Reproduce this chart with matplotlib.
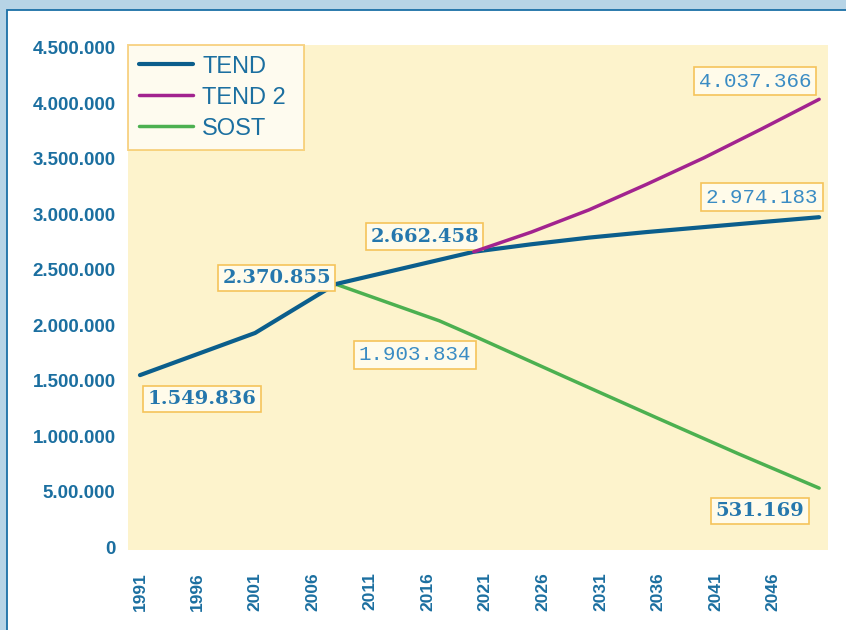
"""
Proyección de población: TEND, TEND 2 y SOST (1991-2050)
"""
import matplotlib
matplotlib.use('Agg')
import matplotlib.pyplot as plt
from matplotlib.patches import Rectangle

plt.rcParams['font.family'] = ['Liberation Sans', 'DejaVu Sans']
plt.rcParams['axes.unicode_minus'] = False

# datos
years_tend = [1991, 2001, 2008, 2020, 2025, 2030, 2035, 2040, 2045, 2050]
tend = [1549836, 1930000, 2370855, 2662458, 2730000, 2790000, 2840000, 2885000, 2930000, 2974183]

years_tend2 = [2020, 2025, 2030, 2035, 2040, 2045, 2050]
tend2 = [2662458, 2840000, 3040000, 3270000, 3510000, 3770000, 4037366]

years_sost = [2008, 2017, 2020, 2028, 2036, 2043, 2050]
sost = [2370855, 2040000, 1903834, 1530000, 1160000, 840000, 531169]

x_ticks = list(range(1991, 2050, 5))
y_ticks = [0, 500000, 1000000, 1500000, 2000000, 2500000, 3000000, 3500000, 4000000, 4500000]
y_tick_labels = ['0', '5.00.000', '1.000.000', '1.500.000', '2.000.000', '2.500.000',
                 '3.000.000', '3.500.000', '4.000.000', '4.500.000']

BLUE_TXT = '#1b6fa0'
ORANGE = '#f5c35a'


def add_label(ax, text, xy, offset, serif=True):
    """etiqueta con recuadro naranja"""
    if serif:
        font = dict(family='DejaVu Serif', weight='bold', size=14, color='#2577ad')
    else:
        font = dict(family='Liberation Mono', size=15, color='#3a8cc4')
    ax.annotate(text, xy=xy, xytext=offset, textcoords='offset pixels',
                ha='center', va='center', **font,
                bbox=dict(boxstyle='square,pad=0.22', fc='#fffbea', ec=ORANGE, lw=1.2))


fig = plt.figure(figsize=(8.46, 6.3), dpi=100)
fig.patch.set_facecolor('#b7d4e6')
# panel blanco con borde azul (solo arriba e izquierda visibles)
fig.add_artist(Rectangle((7 / 846, -0.05), 1.1, 1.05 - 10 / 630, transform=fig.transFigure,
                         fc='white', ec='#1a6fa6', lw=1.3, zorder=0))

ax = fig.add_axes([128 / 846, 80 / 630, 700 / 846, 505 / 630])
ax.set_facecolor('#fdf3cc')
for s in ax.spines.values():
    s.set_visible(False)

ax.plot(years_tend, tend, color='#0b5e8c', lw=3.0, label='TEND', solid_capstyle='round', zorder=3)
ax.plot(years_tend2, tend2, color='#a2238f', lw=2.5, label='TEND 2', solid_capstyle='round', zorder=4)
ax.plot(years_sost, sost, color='#4cb050', lw=2.5, label='SOST', solid_capstyle='round', zorder=2)

ax.set_xlim(1989.96, 2050.77)
ax.set_ylim(-27000, 4527000)
ax.set_xticks(x_ticks)
ax.set_xticklabels([str(y) for y in x_ticks], rotation=90, fontsize=12.5,
                   fontweight='bold', color=BLUE_TXT)
ax.set_yticks(y_ticks)
ax.set_yticklabels(y_tick_labels, fontsize=13.5, fontweight='bold', color=BLUE_TXT)
ax.tick_params(axis='x', length=0, pad=16)
ax.tick_params(axis='y', length=0, pad=9)

# etiquetas de valores
add_label(ax, '1.549.836', (years_tend[0], tend[0]), (62, -24))
add_label(ax, '2.370.855', (years_tend[2], tend[2]), (-59, 6))
add_label(ax, '2.662.458', (years_tend[3], tend[3]), (-49, 15))
add_label(ax, '2.974.183', (years_tend[-1], tend[-1]), (-57, 20), serif=False)
add_label(ax, '4.037.366', (years_tend2[-1], tend2[-1]), (-64, 18), serif=False)
add_label(ax, '1.903.834', (years_sost[2], sost[2]), (-59, -19), serif=False)
add_label(ax, '531.169', (years_sost[-1], sost[-1]), (-59, -23))

leg = ax.legend(loc='upper left', bbox_to_anchor=(0, 1, 176 / 700, 0), mode='expand',
                borderaxespad=0, fontsize=17, handlelength=2.3,
                handletextpad=0.4, labelspacing=0.38, borderpad=0.45,
                fancybox=False, framealpha=0.7, facecolor='white', edgecolor=ORANGE)
leg.get_frame().set_linewidth(1.4)
for t in leg.get_texts():
    t.set_color(BLUE_TXT)

plt.savefig('out.png', dpi=100, facecolor=fig.get_facecolor())
